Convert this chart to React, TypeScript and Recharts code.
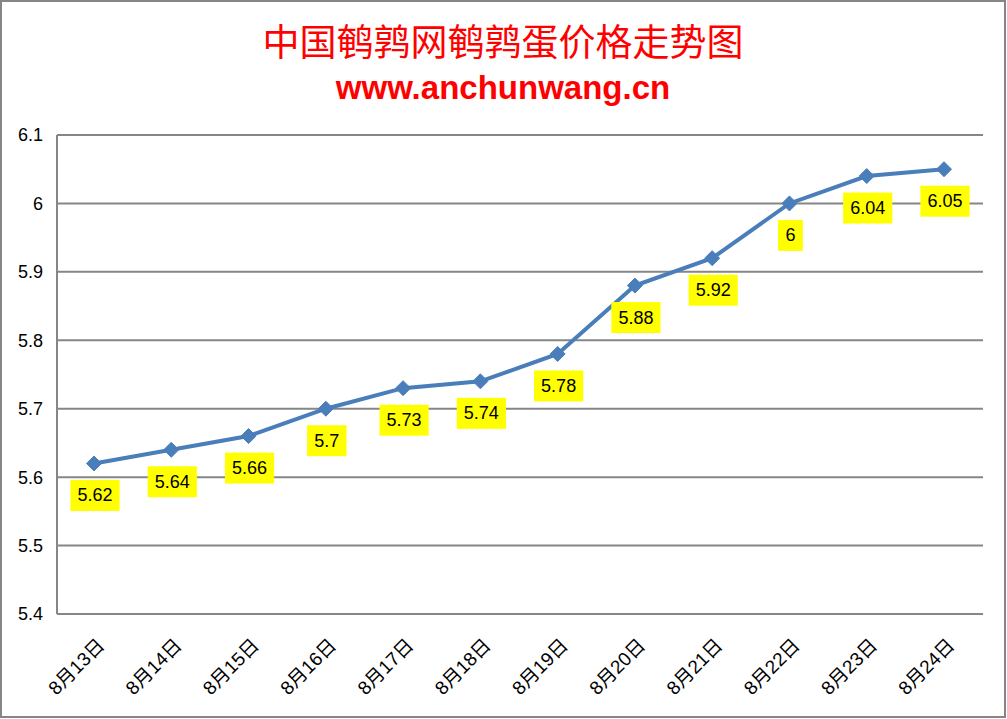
import { LineChart, Line, XAxis, YAxis, CartesianGrid, LabelList } from 'recharts';

const days = [
  '8月13日', '8月14日', '8月15日', '8月16日', '8月17日', '8月18日',
  '8月19日', '8月20日', '8月21日', '8月22日', '8月23日', '8月24日',
];
const prices = [5.62, 5.64, 5.66, 5.7, 5.73, 5.74, 5.78, 5.88, 5.92, 6, 6.04, 6.05];
const yTicks = [5.4, 5.5, 5.6, 5.7, 5.8, 5.9, 6, 6.1];

const data = days.map((day, i) => ({ day, price: prices[i] }));

const LINE = '#4A7EBB';
const GRID = '#868686';
const FONT = '"Liberation Sans", "Noto Sans CJK SC", sans-serif';

function Diamond(props: any) {
  const { cx, cy, index } = props;
  if (cx == null || cy == null) return null;
  const r = 7.5;
  return (
    <polygon
      key={`d-${index}`}
      points={`${cx},${cy - r} ${cx + r},${cy} ${cx},${cy + r} ${cx - r},${cy}`}
      fill={LINE}
      stroke={LINE}
    />
  );
}

function PriceLabel(props: any) {
  const { x, y, value } = props;
  const text = String(value);
  const digits = text.replace('.', '').length;
  const w = digits * 9.8 + (text.includes('.') ? 4.8 : 0) + 15;
  const h = 31;
  const cy = y + 32;
  return (
    <g>
      <rect x={x - w / 2 + 1} y={cy - h / 2} width={w} height={h} fill="#FFFF00" />
      <text
        x={x + 1}
        y={cy}
        textAnchor="middle"
        dominantBaseline="central"
        fontSize={18}
        fontFamily={FONT}
        fill="#000"
      >
        {text}
      </text>
    </g>
  );
}

function DayTick(props: any) {
  const { x, y, payload } = props;
  return (
    <g transform={`translate(${x + 7},${y + 20}) rotate(-45)`}>
      <text textAnchor="end" dominantBaseline="central" fontSize={19} fontFamily={FONT} fill="#000">
        {payload.value}
      </text>
    </g>
  );
}

export default function App() {
  return (
    <div
      style={{
        position: 'fixed',
        left: 0,
        top: 0,
        width: 1006,
        height: 718,
        boxSizing: 'border-box',
        border: `2px solid ${GRID}`,
        background: '#fff',
      }}
    >
      <div
        style={{
          position: 'absolute',
          left: -2,
          top: 16,
          width: 1006,
          textAlign: 'center',
          color: '#FF0000',
          fontFamily: '"Noto Sans CJK SC", sans-serif',
          fontSize: 37,
          lineHeight: '44px',
        }}
      >
        中国鹌鹑网鹌鹑蛋价格走势图
      </div>
      <div
        style={{
          position: 'absolute',
          left: -2,
          top: 66,
          width: 1006,
          textAlign: 'center',
          color: '#FF0000',
          fontFamily: '"Liberation Sans", sans-serif',
          fontWeight: 'bold',
          fontSize: 33,
          lineHeight: '40px',
        }}
      >
        www.anchunwang.cn
      </div>
      <div style={{ position: 'absolute', left: -2, top: -2 }}>
        <LineChart
          width={1006}
          height={718}
          data={data}
          margin={{ top: 135, right: 23, bottom: 0, left: 0 }}
        >
          <CartesianGrid vertical={false} stroke={GRID} strokeWidth={2} />
          <XAxis
            dataKey="day"
            height={104}
            padding={{ left: 37, right: 39 }}
            axisLine={{ stroke: GRID, strokeWidth: 2 }}
            tickLine={false}
            interval={0}
            tick={<DayTick />}
          />
          <YAxis
            width={57}
            domain={[5.4, 6.1]}
            ticks={yTicks}
            interval={0}
            axisLine={{ stroke: GRID, strokeWidth: 2 }}
            tickLine={false}
            tickMargin={8}
            tickFormatter={(v: number) => String(v)}
            tick={{ fontSize: 18, fontFamily: FONT, fill: '#000' }}
          />
          <Line
            type="linear"
            dataKey="price"
            stroke={LINE}
            strokeWidth={4}
            dot={(p: any) => <Diamond key={`dot-${p.index}`} {...p} />}
            activeDot={false}
            isAnimationActive={false}
          >
            <LabelList dataKey="price" content={<PriceLabel />} />
          </Line>
        </LineChart>
      </div>
    </div>
  );
}
